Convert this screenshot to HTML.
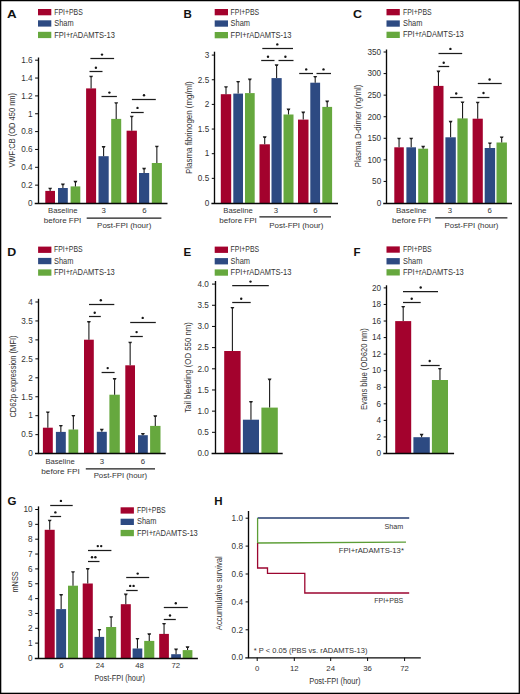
<!DOCTYPE html>
<html><head><meta charset="utf-8"><title>Figure</title>
<style>html,body{margin:0;padding:0;background:#fff;width:520px;height:694px;overflow:hidden}svg{display:block}</style>
</head><body>
<svg width="520" height="694" viewBox="0 0 520 694">
<g font-family='"Liberation Sans", sans-serif' stroke-linecap="butt">
<rect x="0.00" y="0.00" width="520.00" height="694.00" fill="#ffffff"/>
<text transform="translate(6.90,17.70) scale(1.160,1)" x="0" y="0" font-size="11.5" font-weight="bold" fill="#111">A</text>
<rect x="38.00" y="9.00" width="13.30" height="6.30" fill="#a3022d"/>
<text x="54.20" y="14.75" font-size="8.4" text-anchor="start" fill="#333333" font-weight="normal" textLength="28.60" lengthAdjust="spacingAndGlyphs">FPI+PBS</text>
<rect x="38.00" y="20.30" width="13.30" height="6.30" fill="#2d4a82"/>
<text x="54.20" y="26.05" font-size="8.4" text-anchor="start" fill="#333333" font-weight="normal" textLength="19.40" lengthAdjust="spacingAndGlyphs">Sham</text>
<rect x="38.00" y="31.80" width="13.30" height="6.30" fill="#66a83e"/>
<text x="54.20" y="37.55" font-size="8.4" text-anchor="start" fill="#333333" font-weight="normal" textLength="60.80" lengthAdjust="spacingAndGlyphs">FPI+rADAMTS-13</text>
<line x1="38.50" y1="57.50" x2="38.50" y2="203.50" stroke="#080808" stroke-width="1.35"/>
<text x="32.60" y="205.79" font-size="8.2" text-anchor="end" fill="#333333" font-weight="normal">0</text>
<line x1="35.10" y1="185.15" x2="38.10" y2="185.15" stroke="#080808" stroke-width="1.0"/>
<text x="32.60" y="187.94" font-size="8.2" text-anchor="end" fill="#333333" font-weight="normal">0.2</text>
<line x1="35.10" y1="167.30" x2="38.10" y2="167.30" stroke="#080808" stroke-width="1.0"/>
<text x="32.60" y="170.09" font-size="8.2" text-anchor="end" fill="#333333" font-weight="normal">0.4</text>
<line x1="35.10" y1="149.45" x2="38.10" y2="149.45" stroke="#080808" stroke-width="1.0"/>
<text x="32.60" y="152.24" font-size="8.2" text-anchor="end" fill="#333333" font-weight="normal">0.6</text>
<line x1="35.10" y1="131.60" x2="38.10" y2="131.60" stroke="#080808" stroke-width="1.0"/>
<text x="32.60" y="134.39" font-size="8.2" text-anchor="end" fill="#333333" font-weight="normal">0.8</text>
<line x1="35.10" y1="113.75" x2="38.10" y2="113.75" stroke="#080808" stroke-width="1.0"/>
<text x="32.60" y="116.54" font-size="8.2" text-anchor="end" fill="#333333" font-weight="normal">1</text>
<line x1="35.10" y1="95.90" x2="38.10" y2="95.90" stroke="#080808" stroke-width="1.0"/>
<text x="32.60" y="98.69" font-size="8.2" text-anchor="end" fill="#333333" font-weight="normal">1.2</text>
<line x1="35.10" y1="78.05" x2="38.10" y2="78.05" stroke="#080808" stroke-width="1.0"/>
<text x="32.60" y="80.84" font-size="8.2" text-anchor="end" fill="#333333" font-weight="normal">1.4</text>
<line x1="35.10" y1="60.20" x2="38.10" y2="60.20" stroke="#080808" stroke-width="1.0"/>
<text x="32.60" y="62.99" font-size="8.2" text-anchor="end" fill="#333333" font-weight="normal">1.6</text>
<text transform="translate(15.00,130.20) rotate(-90)" x="0" y="0" font-size="9.3" text-anchor="middle" fill="#333333" textLength="74.60" lengthAdjust="spacingAndGlyphs">VWF:CB (OD 450 nm)</text>
<rect x="45.30" y="190.90" width="9.70" height="12.10" fill="#a3022d"/>
<line x1="50.15" y1="190.90" x2="50.15" y2="188.80" stroke="#1c1c1c" stroke-width="1.1"/>
<path d="M48.25,187.70 L52.05,187.70 L51.35,189.30 L48.95,189.30 Z" fill="#1c1c1c"/>
<rect x="58.00" y="188.00" width="9.80" height="15.00" fill="#2d4a82"/>
<line x1="62.90" y1="188.00" x2="62.90" y2="184.70" stroke="#1c1c1c" stroke-width="1.1"/>
<path d="M61.00,183.60 L64.80,183.60 L64.10,185.20 L61.70,185.20 Z" fill="#1c1c1c"/>
<rect x="70.60" y="186.40" width="9.70" height="16.60" fill="#66a83e"/>
<line x1="75.45" y1="186.40" x2="75.45" y2="181.90" stroke="#1c1c1c" stroke-width="1.1"/>
<path d="M73.55,180.80 L77.35,180.80 L76.65,182.40 L74.25,182.40 Z" fill="#1c1c1c"/>
<rect x="86.10" y="88.40" width="10.00" height="114.60" fill="#a3022d"/>
<line x1="91.10" y1="88.40" x2="91.10" y2="76.80" stroke="#1c1c1c" stroke-width="1.1"/>
<path d="M89.20,75.70 L93.00,75.70 L92.30,77.30 L89.90,77.30 Z" fill="#1c1c1c"/>
<rect x="98.50" y="156.20" width="10.20" height="46.80" fill="#2d4a82"/>
<line x1="103.60" y1="156.20" x2="103.60" y2="147.20" stroke="#1c1c1c" stroke-width="1.1"/>
<path d="M101.70,146.10 L105.50,146.10 L104.80,147.70 L102.40,147.70 Z" fill="#1c1c1c"/>
<rect x="111.20" y="118.90" width="10.00" height="84.10" fill="#66a83e"/>
<line x1="116.20" y1="118.90" x2="116.20" y2="103.30" stroke="#1c1c1c" stroke-width="1.1"/>
<path d="M114.30,102.20 L118.10,102.20 L117.40,103.80 L115.00,103.80 Z" fill="#1c1c1c"/>
<rect x="126.60" y="130.70" width="10.30" height="72.30" fill="#a3022d"/>
<line x1="131.75" y1="130.70" x2="131.75" y2="116.80" stroke="#1c1c1c" stroke-width="1.1"/>
<path d="M129.85,115.70 L133.65,115.70 L132.95,117.30 L130.55,117.30 Z" fill="#1c1c1c"/>
<rect x="139.00" y="173.00" width="10.20" height="30.00" fill="#2d4a82"/>
<line x1="144.10" y1="173.00" x2="144.10" y2="168.90" stroke="#1c1c1c" stroke-width="1.1"/>
<path d="M142.20,167.80 L146.00,167.80 L145.30,169.40 L142.90,169.40 Z" fill="#1c1c1c"/>
<rect x="151.80" y="163.00" width="10.10" height="40.00" fill="#66a83e"/>
<line x1="156.85" y1="163.00" x2="156.85" y2="146.80" stroke="#1c1c1c" stroke-width="1.1"/>
<path d="M154.95,145.70 L158.75,145.70 L158.05,147.30 L155.65,147.30 Z" fill="#1c1c1c"/>
<line x1="34.70" y1="203.50" x2="167.50" y2="203.50" stroke="#080808" stroke-width="1.35"/>
<line x1="90.40" y1="58.50" x2="114.10" y2="58.50" stroke="#1c1c1c" stroke-width="1.25"/>
<circle cx="102.00" cy="54.60" r="1.2" fill="#151515"/>
<line x1="89.50" y1="71.50" x2="102.50" y2="71.50" stroke="#1c1c1c" stroke-width="1.25"/>
<circle cx="95.90" cy="67.70" r="1.2" fill="#151515"/>
<line x1="101.50" y1="96.50" x2="116.90" y2="96.50" stroke="#1c1c1c" stroke-width="1.25"/>
<circle cx="109.40" cy="92.60" r="1.2" fill="#151515"/>
<line x1="131.90" y1="99.50" x2="155.80" y2="99.50" stroke="#1c1c1c" stroke-width="1.25"/>
<circle cx="144.00" cy="95.20" r="1.2" fill="#151515"/>
<line x1="131.00" y1="112.50" x2="143.70" y2="112.50" stroke="#1c1c1c" stroke-width="1.25"/>
<circle cx="137.50" cy="107.90" r="1.2" fill="#151515"/>
<text x="62.80" y="213.20" font-size="7.8" text-anchor="middle" fill="#333333" font-weight="normal" textLength="29.50" lengthAdjust="spacingAndGlyphs">Baseline</text>
<text x="62.60" y="223.00" font-size="7.8" text-anchor="middle" fill="#333333" font-weight="normal" textLength="37.50" lengthAdjust="spacingAndGlyphs">before FPI</text>
<text x="103.70" y="213.20" font-size="7.8" text-anchor="middle" fill="#333333" font-weight="normal">3</text>
<text x="144.40" y="213.20" font-size="7.8" text-anchor="middle" fill="#333333" font-weight="normal">6</text>
<line x1="86.70" y1="218.10" x2="161.40" y2="218.10" stroke="#1c1c1c" stroke-width="1.25"/>
<text x="124.20" y="228.00" font-size="7.8" text-anchor="middle" fill="#333333" font-weight="normal" textLength="54.20" lengthAdjust="spacingAndGlyphs">Post-FPI (hour)</text>
<text transform="translate(183.50,17.80) scale(1.000,1)" x="0" y="0" font-size="11.5" font-weight="bold" fill="#111">B</text>
<rect x="214.70" y="9.00" width="13.30" height="6.30" fill="#a3022d"/>
<text x="230.60" y="14.75" font-size="8.4" text-anchor="start" fill="#333333" font-weight="normal" textLength="28.60" lengthAdjust="spacingAndGlyphs">FPI+PBS</text>
<rect x="214.70" y="20.40" width="13.30" height="6.30" fill="#2d4a82"/>
<text x="230.60" y="26.15" font-size="8.4" text-anchor="start" fill="#333333" font-weight="normal" textLength="19.40" lengthAdjust="spacingAndGlyphs">Sham</text>
<rect x="214.70" y="32.00" width="13.30" height="6.30" fill="#66a83e"/>
<text x="230.60" y="37.75" font-size="8.4" text-anchor="start" fill="#333333" font-weight="normal" textLength="60.80" lengthAdjust="spacingAndGlyphs">FPI+rADAMTS-13</text>
<line x1="214.50" y1="51.70" x2="214.50" y2="203.50" stroke="#080808" stroke-width="1.35"/>
<text x="209.20" y="205.79" font-size="8.2" text-anchor="end" fill="#333333" font-weight="normal">0</text>
<line x1="211.80" y1="178.35" x2="214.80" y2="178.35" stroke="#080808" stroke-width="1.0"/>
<text x="209.20" y="181.14" font-size="8.2" text-anchor="end" fill="#333333" font-weight="normal">0.5</text>
<line x1="211.80" y1="153.70" x2="214.80" y2="153.70" stroke="#080808" stroke-width="1.0"/>
<text x="209.20" y="156.49" font-size="8.2" text-anchor="end" fill="#333333" font-weight="normal">1</text>
<line x1="211.80" y1="129.05" x2="214.80" y2="129.05" stroke="#080808" stroke-width="1.0"/>
<text x="209.20" y="131.84" font-size="8.2" text-anchor="end" fill="#333333" font-weight="normal">1.5</text>
<line x1="211.80" y1="104.40" x2="214.80" y2="104.40" stroke="#080808" stroke-width="1.0"/>
<text x="209.20" y="107.19" font-size="8.2" text-anchor="end" fill="#333333" font-weight="normal">2</text>
<line x1="211.80" y1="79.75" x2="214.80" y2="79.75" stroke="#080808" stroke-width="1.0"/>
<text x="209.20" y="82.54" font-size="8.2" text-anchor="end" fill="#333333" font-weight="normal">2.5</text>
<line x1="211.80" y1="55.10" x2="214.80" y2="55.10" stroke="#080808" stroke-width="1.0"/>
<text x="209.20" y="57.89" font-size="8.2" text-anchor="end" fill="#333333" font-weight="normal">3</text>
<text transform="translate(192.40,127.60) rotate(-90)" x="0" y="0" font-size="9.3" text-anchor="middle" fill="#333333" textLength="92.70" lengthAdjust="spacingAndGlyphs">Plasma fibrinogen (mg/ml)</text>
<rect x="220.80" y="94.20" width="10.40" height="108.80" fill="#a3022d"/>
<line x1="226.00" y1="94.20" x2="226.00" y2="87.30" stroke="#1c1c1c" stroke-width="1.1"/>
<path d="M224.10,86.20 L227.90,86.20 L227.20,87.80 L224.80,87.80 Z" fill="#1c1c1c"/>
<rect x="233.30" y="93.60" width="9.70" height="109.40" fill="#2d4a82"/>
<line x1="238.15" y1="93.60" x2="238.15" y2="82.00" stroke="#1c1c1c" stroke-width="1.1"/>
<path d="M236.25,80.90 L240.05,80.90 L239.35,82.50 L236.95,82.50 Z" fill="#1c1c1c"/>
<rect x="245.00" y="93.10" width="9.70" height="109.90" fill="#66a83e"/>
<line x1="249.85" y1="93.10" x2="249.85" y2="79.70" stroke="#1c1c1c" stroke-width="1.1"/>
<path d="M247.95,78.60 L251.75,78.60 L251.05,80.20 L248.65,80.20 Z" fill="#1c1c1c"/>
<rect x="259.50" y="144.30" width="10.40" height="58.70" fill="#a3022d"/>
<line x1="264.70" y1="144.30" x2="264.70" y2="137.40" stroke="#1c1c1c" stroke-width="1.1"/>
<path d="M262.80,136.30 L266.60,136.30 L265.90,137.90 L263.50,137.90 Z" fill="#1c1c1c"/>
<rect x="271.50" y="78.10" width="10.20" height="124.90" fill="#2d4a82"/>
<line x1="276.60" y1="78.10" x2="276.60" y2="65.40" stroke="#1c1c1c" stroke-width="1.1"/>
<path d="M274.70,64.30 L278.50,64.30 L277.80,65.90 L275.40,65.90 Z" fill="#1c1c1c"/>
<rect x="283.50" y="114.50" width="10.00" height="88.50" fill="#66a83e"/>
<line x1="288.50" y1="114.50" x2="288.50" y2="109.70" stroke="#1c1c1c" stroke-width="1.1"/>
<path d="M286.60,108.60 L290.40,108.60 L289.70,110.20 L287.30,110.20 Z" fill="#1c1c1c"/>
<rect x="298.00" y="119.60" width="10.50" height="83.40" fill="#a3022d"/>
<line x1="303.25" y1="119.60" x2="303.25" y2="112.70" stroke="#1c1c1c" stroke-width="1.1"/>
<path d="M301.35,111.60 L305.15,111.60 L304.45,113.20 L302.05,113.20 Z" fill="#1c1c1c"/>
<rect x="310.30" y="82.70" width="9.80" height="120.30" fill="#2d4a82"/>
<line x1="315.20" y1="82.70" x2="315.20" y2="77.00" stroke="#1c1c1c" stroke-width="1.1"/>
<path d="M313.30,75.90 L317.10,75.90 L316.40,77.50 L314.00,77.50 Z" fill="#1c1c1c"/>
<rect x="322.30" y="106.90" width="9.80" height="96.10" fill="#66a83e"/>
<line x1="327.20" y1="106.90" x2="327.20" y2="101.70" stroke="#1c1c1c" stroke-width="1.1"/>
<path d="M325.30,100.60 L329.10,100.60 L328.40,102.20 L326.00,102.20 Z" fill="#1c1c1c"/>
<line x1="211.40" y1="203.50" x2="338.00" y2="203.50" stroke="#080808" stroke-width="1.35"/>
<line x1="262.30" y1="48.50" x2="293.00" y2="48.50" stroke="#1c1c1c" stroke-width="1.25"/>
<circle cx="277.30" cy="44.40" r="1.2" fill="#151515"/>
<line x1="261.20" y1="60.50" x2="274.50" y2="60.50" stroke="#1c1c1c" stroke-width="1.25"/>
<circle cx="268.00" cy="56.70" r="1.2" fill="#151515"/>
<line x1="278.50" y1="60.50" x2="293.50" y2="60.50" stroke="#1c1c1c" stroke-width="1.25"/>
<circle cx="285.40" cy="56.70" r="1.2" fill="#151515"/>
<line x1="299.20" y1="73.50" x2="313.00" y2="73.50" stroke="#1c1c1c" stroke-width="1.25"/>
<circle cx="306.20" cy="69.40" r="1.2" fill="#151515"/>
<line x1="316.50" y1="73.50" x2="331.00" y2="73.50" stroke="#1c1c1c" stroke-width="1.25"/>
<circle cx="323.50" cy="69.40" r="1.2" fill="#151515"/>
<text x="238.00" y="213.00" font-size="7.8" text-anchor="middle" fill="#333333" font-weight="normal" textLength="29.50" lengthAdjust="spacingAndGlyphs">Baseline</text>
<text x="238.10" y="223.00" font-size="7.8" text-anchor="middle" fill="#333333" font-weight="normal" textLength="37.50" lengthAdjust="spacingAndGlyphs">before FPI</text>
<text x="275.80" y="213.00" font-size="7.8" text-anchor="middle" fill="#333333" font-weight="normal">3</text>
<text x="315.30" y="213.00" font-size="7.8" text-anchor="middle" fill="#333333" font-weight="normal">6</text>
<line x1="259.40" y1="216.90" x2="331.00" y2="216.90" stroke="#1c1c1c" stroke-width="1.1"/>
<text x="296.30" y="228.00" font-size="7.8" text-anchor="middle" fill="#333333" font-weight="normal" textLength="54.00" lengthAdjust="spacingAndGlyphs">Post-FPI (hour)</text>
<text transform="translate(353.10,17.80) scale(1.090,1)" x="0" y="0" font-size="11.5" font-weight="bold" fill="#111">C</text>
<rect x="386.50" y="9.00" width="13.30" height="6.30" fill="#a3022d"/>
<text x="403.00" y="14.75" font-size="8.4" text-anchor="start" fill="#333333" font-weight="normal" textLength="28.60" lengthAdjust="spacingAndGlyphs">FPI+PBS</text>
<rect x="386.50" y="20.40" width="13.30" height="6.30" fill="#2d4a82"/>
<text x="403.00" y="26.15" font-size="8.4" text-anchor="start" fill="#333333" font-weight="normal" textLength="19.40" lengthAdjust="spacingAndGlyphs">Sham</text>
<rect x="386.50" y="31.70" width="13.30" height="6.30" fill="#66a83e"/>
<text x="403.00" y="37.45" font-size="8.4" text-anchor="start" fill="#333333" font-weight="normal" textLength="60.80" lengthAdjust="spacingAndGlyphs">FPI+rADAMTS-13</text>
<line x1="386.50" y1="49.50" x2="386.50" y2="203.50" stroke="#080808" stroke-width="1.35"/>
<text x="381.20" y="205.79" font-size="8.2" text-anchor="end" fill="#333333" font-weight="normal">0</text>
<line x1="383.60" y1="181.43" x2="386.60" y2="181.43" stroke="#080808" stroke-width="1.0"/>
<text x="381.20" y="184.22" font-size="8.2" text-anchor="end" fill="#333333" font-weight="normal">50</text>
<line x1="383.60" y1="159.86" x2="386.60" y2="159.86" stroke="#080808" stroke-width="1.0"/>
<text x="381.20" y="162.65" font-size="8.2" text-anchor="end" fill="#333333" font-weight="normal">100</text>
<line x1="383.60" y1="138.29" x2="386.60" y2="138.29" stroke="#080808" stroke-width="1.0"/>
<text x="381.20" y="141.08" font-size="8.2" text-anchor="end" fill="#333333" font-weight="normal">150</text>
<line x1="383.60" y1="116.72" x2="386.60" y2="116.72" stroke="#080808" stroke-width="1.0"/>
<text x="381.20" y="119.51" font-size="8.2" text-anchor="end" fill="#333333" font-weight="normal">200</text>
<line x1="383.60" y1="95.15" x2="386.60" y2="95.15" stroke="#080808" stroke-width="1.0"/>
<text x="381.20" y="97.94" font-size="8.2" text-anchor="end" fill="#333333" font-weight="normal">250</text>
<line x1="383.60" y1="73.58" x2="386.60" y2="73.58" stroke="#080808" stroke-width="1.0"/>
<text x="381.20" y="76.37" font-size="8.2" text-anchor="end" fill="#333333" font-weight="normal">300</text>
<line x1="383.60" y1="52.01" x2="386.60" y2="52.01" stroke="#080808" stroke-width="1.0"/>
<text x="381.20" y="54.80" font-size="8.2" text-anchor="end" fill="#333333" font-weight="normal">350</text>
<text transform="translate(361.00,125.90) rotate(-90)" x="0" y="0" font-size="9.3" text-anchor="middle" fill="#333333" textLength="82.60" lengthAdjust="spacingAndGlyphs">Plasma D-dimer (ng/ml)</text>
<rect x="394.30" y="147.30" width="9.50" height="55.70" fill="#a3022d"/>
<line x1="399.05" y1="147.30" x2="399.05" y2="138.80" stroke="#1c1c1c" stroke-width="1.1"/>
<path d="M397.15,137.70 L400.95,137.70 L400.25,139.30 L397.85,139.30 Z" fill="#1c1c1c"/>
<rect x="406.40" y="147.30" width="9.60" height="55.70" fill="#2d4a82"/>
<line x1="411.20" y1="147.30" x2="411.20" y2="138.80" stroke="#1c1c1c" stroke-width="1.1"/>
<path d="M409.30,137.70 L413.10,137.70 L412.40,139.30 L410.00,139.30 Z" fill="#1c1c1c"/>
<rect x="418.20" y="148.70" width="9.90" height="54.30" fill="#66a83e"/>
<line x1="423.15" y1="148.70" x2="423.15" y2="146.90" stroke="#1c1c1c" stroke-width="1.1"/>
<path d="M421.25,145.80 L425.05,145.80 L424.35,147.40 L421.95,147.40 Z" fill="#1c1c1c"/>
<rect x="433.40" y="85.90" width="10.10" height="117.10" fill="#a3022d"/>
<line x1="438.45" y1="85.90" x2="438.45" y2="71.70" stroke="#1c1c1c" stroke-width="1.1"/>
<path d="M436.55,70.60 L440.35,70.60 L439.65,72.20 L437.25,72.20 Z" fill="#1c1c1c"/>
<rect x="445.40" y="137.30" width="10.40" height="65.70" fill="#2d4a82"/>
<line x1="450.60" y1="137.30" x2="450.60" y2="121.90" stroke="#1c1c1c" stroke-width="1.1"/>
<path d="M448.70,120.80 L452.50,120.80 L451.80,122.40 L449.40,122.40 Z" fill="#1c1c1c"/>
<rect x="457.40" y="118.40" width="10.30" height="84.60" fill="#66a83e"/>
<line x1="462.55" y1="118.40" x2="462.55" y2="102.50" stroke="#1c1c1c" stroke-width="1.1"/>
<path d="M460.65,101.40 L464.45,101.40 L463.75,103.00 L461.35,103.00 Z" fill="#1c1c1c"/>
<rect x="472.60" y="118.70" width="10.20" height="84.30" fill="#a3022d"/>
<line x1="477.70" y1="118.70" x2="477.70" y2="102.80" stroke="#1c1c1c" stroke-width="1.1"/>
<path d="M475.80,101.70 L479.60,101.70 L478.90,103.30 L476.50,103.30 Z" fill="#1c1c1c"/>
<rect x="484.70" y="148.00" width="10.40" height="55.00" fill="#2d4a82"/>
<line x1="489.90" y1="148.00" x2="489.90" y2="143.50" stroke="#1c1c1c" stroke-width="1.1"/>
<path d="M488.00,142.40 L491.80,142.40 L491.10,144.00 L488.70,144.00 Z" fill="#1c1c1c"/>
<rect x="496.50" y="142.50" width="10.40" height="60.50" fill="#66a83e"/>
<line x1="501.70" y1="142.50" x2="501.70" y2="137.50" stroke="#1c1c1c" stroke-width="1.1"/>
<path d="M499.80,136.40 L503.60,136.40 L502.90,138.00 L500.50,138.00 Z" fill="#1c1c1c"/>
<line x1="383.20" y1="203.50" x2="512.00" y2="203.50" stroke="#080808" stroke-width="1.35"/>
<line x1="438.50" y1="53.50" x2="462.20" y2="53.50" stroke="#1c1c1c" stroke-width="1.25"/>
<circle cx="450.40" cy="48.90" r="1.2" fill="#151515"/>
<line x1="438.50" y1="66.50" x2="449.20" y2="66.50" stroke="#1c1c1c" stroke-width="1.25"/>
<circle cx="443.70" cy="62.70" r="1.2" fill="#151515"/>
<line x1="450.10" y1="97.50" x2="462.60" y2="97.50" stroke="#1c1c1c" stroke-width="1.25"/>
<circle cx="456.20" cy="93.50" r="1.2" fill="#151515"/>
<line x1="477.80" y1="83.50" x2="501.70" y2="83.50" stroke="#1c1c1c" stroke-width="1.25"/>
<circle cx="489.60" cy="79.50" r="1.2" fill="#151515"/>
<line x1="477.40" y1="97.50" x2="489.40" y2="97.50" stroke="#1c1c1c" stroke-width="1.25"/>
<circle cx="483.50" cy="93.00" r="1.2" fill="#151515"/>
<text x="411.30" y="213.00" font-size="7.8" text-anchor="middle" fill="#333333" font-weight="normal" textLength="30.50" lengthAdjust="spacingAndGlyphs">Baseline</text>
<text x="411.60" y="223.20" font-size="7.8" text-anchor="middle" fill="#333333" font-weight="normal" textLength="39.00" lengthAdjust="spacingAndGlyphs">before FPI</text>
<text x="450.00" y="213.00" font-size="7.8" text-anchor="middle" fill="#333333" font-weight="normal">3</text>
<text x="489.60" y="213.00" font-size="7.8" text-anchor="middle" fill="#333333" font-weight="normal">6</text>
<line x1="435.20" y1="217.90" x2="507.40" y2="217.90" stroke="#1c1c1c" stroke-width="1.1"/>
<text x="471.50" y="228.00" font-size="7.8" text-anchor="middle" fill="#333333" font-weight="normal" textLength="54.00" lengthAdjust="spacingAndGlyphs">Post-FPI (hour)</text>
<text transform="translate(7.20,256.00) scale(1.080,1)" x="0" y="0" font-size="11.5" font-weight="bold" fill="#111">D</text>
<rect x="38.10" y="246.60" width="13.30" height="6.30" fill="#a3022d"/>
<text x="54.00" y="252.35" font-size="8.4" text-anchor="start" fill="#333333" font-weight="normal" textLength="28.60" lengthAdjust="spacingAndGlyphs">FPI+PBS</text>
<rect x="38.10" y="257.90" width="13.30" height="6.30" fill="#2d4a82"/>
<text x="54.00" y="263.65" font-size="8.4" text-anchor="start" fill="#333333" font-weight="normal" textLength="19.40" lengthAdjust="spacingAndGlyphs">Sham</text>
<rect x="38.10" y="269.40" width="13.30" height="6.30" fill="#66a83e"/>
<text x="54.00" y="275.15" font-size="8.4" text-anchor="start" fill="#333333" font-weight="normal" textLength="60.80" lengthAdjust="spacingAndGlyphs">FPI+rADAMTS-13</text>
<line x1="38.50" y1="298.80" x2="38.50" y2="454.10" stroke="#080808" stroke-width="1.35"/>
<text x="32.70" y="456.39" font-size="8.2" text-anchor="end" fill="#333333" font-weight="normal">0</text>
<line x1="35.40" y1="434.65" x2="38.40" y2="434.65" stroke="#080808" stroke-width="1.0"/>
<text x="32.70" y="437.44" font-size="8.2" text-anchor="end" fill="#333333" font-weight="normal">0.5</text>
<line x1="35.40" y1="415.70" x2="38.40" y2="415.70" stroke="#080808" stroke-width="1.0"/>
<text x="32.70" y="418.49" font-size="8.2" text-anchor="end" fill="#333333" font-weight="normal">1</text>
<line x1="35.40" y1="396.75" x2="38.40" y2="396.75" stroke="#080808" stroke-width="1.0"/>
<text x="32.70" y="399.54" font-size="8.2" text-anchor="end" fill="#333333" font-weight="normal">1.5</text>
<line x1="35.40" y1="377.80" x2="38.40" y2="377.80" stroke="#080808" stroke-width="1.0"/>
<text x="32.70" y="380.59" font-size="8.2" text-anchor="end" fill="#333333" font-weight="normal">2</text>
<line x1="35.40" y1="358.85" x2="38.40" y2="358.85" stroke="#080808" stroke-width="1.0"/>
<text x="32.70" y="361.64" font-size="8.2" text-anchor="end" fill="#333333" font-weight="normal">2.5</text>
<line x1="35.40" y1="339.90" x2="38.40" y2="339.90" stroke="#080808" stroke-width="1.0"/>
<text x="32.70" y="342.69" font-size="8.2" text-anchor="end" fill="#333333" font-weight="normal">3</text>
<line x1="35.40" y1="320.95" x2="38.40" y2="320.95" stroke="#080808" stroke-width="1.0"/>
<text x="32.70" y="323.74" font-size="8.2" text-anchor="end" fill="#333333" font-weight="normal">3.5</text>
<line x1="35.40" y1="302.00" x2="38.40" y2="302.00" stroke="#080808" stroke-width="1.0"/>
<text x="32.70" y="304.79" font-size="8.2" text-anchor="end" fill="#333333" font-weight="normal">4</text>
<text transform="translate(16.10,376.50) rotate(-90)" x="0" y="0" font-size="9.5" text-anchor="middle" fill="#333333" textLength="82.20" lengthAdjust="spacingAndGlyphs">CD62p expression (MFI)</text>
<rect x="42.90" y="427.70" width="9.90" height="25.60" fill="#a3022d"/>
<line x1="47.85" y1="427.70" x2="47.85" y2="412.50" stroke="#1c1c1c" stroke-width="1.1"/>
<path d="M45.95,411.40 L49.75,411.40 L49.05,413.00 L46.65,413.00 Z" fill="#1c1c1c"/>
<rect x="55.90" y="431.90" width="9.90" height="21.40" fill="#2d4a82"/>
<line x1="60.85" y1="431.90" x2="60.85" y2="426.00" stroke="#1c1c1c" stroke-width="1.1"/>
<path d="M58.95,424.90 L62.75,424.90 L62.05,426.50 L59.65,426.50 Z" fill="#1c1c1c"/>
<rect x="68.50" y="429.50" width="9.70" height="23.80" fill="#66a83e"/>
<line x1="73.35" y1="429.50" x2="73.35" y2="416.10" stroke="#1c1c1c" stroke-width="1.1"/>
<path d="M71.45,415.00 L75.25,415.00 L74.55,416.60 L72.15,416.60 Z" fill="#1c1c1c"/>
<rect x="84.00" y="339.70" width="9.80" height="113.60" fill="#a3022d"/>
<line x1="88.90" y1="339.70" x2="88.90" y2="322.20" stroke="#1c1c1c" stroke-width="1.1"/>
<path d="M87.00,321.10 L90.80,321.10 L90.10,322.70 L87.70,322.70 Z" fill="#1c1c1c"/>
<rect x="96.80" y="431.80" width="10.00" height="21.50" fill="#2d4a82"/>
<line x1="101.80" y1="431.80" x2="101.80" y2="429.90" stroke="#1c1c1c" stroke-width="1.1"/>
<path d="M99.90,428.80 L103.70,428.80 L103.00,430.40 L100.60,430.40 Z" fill="#1c1c1c"/>
<rect x="109.40" y="394.70" width="10.40" height="58.60" fill="#66a83e"/>
<line x1="114.60" y1="394.70" x2="114.60" y2="379.20" stroke="#1c1c1c" stroke-width="1.1"/>
<path d="M112.70,378.10 L116.50,378.10 L115.80,379.70 L113.40,379.70 Z" fill="#1c1c1c"/>
<rect x="125.30" y="365.30" width="9.70" height="88.00" fill="#a3022d"/>
<line x1="130.15" y1="365.30" x2="130.15" y2="342.80" stroke="#1c1c1c" stroke-width="1.1"/>
<path d="M128.25,341.70 L132.05,341.70 L131.35,343.30 L128.95,343.30 Z" fill="#1c1c1c"/>
<rect x="138.00" y="435.20" width="9.80" height="18.10" fill="#2d4a82"/>
<line x1="142.90" y1="435.20" x2="142.90" y2="434.20" stroke="#1c1c1c" stroke-width="1.1"/>
<path d="M141.00,433.10 L144.80,433.10 L144.10,434.70 L141.70,434.70 Z" fill="#1c1c1c"/>
<rect x="150.10" y="425.90" width="10.40" height="27.40" fill="#66a83e"/>
<line x1="155.30" y1="425.90" x2="155.30" y2="416.40" stroke="#1c1c1c" stroke-width="1.1"/>
<path d="M153.40,415.30 L157.20,415.30 L156.50,416.90 L154.10,416.90 Z" fill="#1c1c1c"/>
<line x1="35.00" y1="453.50" x2="165.70" y2="453.50" stroke="#080808" stroke-width="1.35"/>
<line x1="89.00" y1="304.50" x2="114.30" y2="304.50" stroke="#1c1c1c" stroke-width="1.25"/>
<circle cx="100.80" cy="300.30" r="1.2" fill="#151515"/>
<line x1="89.00" y1="316.50" x2="100.80" y2="316.50" stroke="#1c1c1c" stroke-width="1.25"/>
<circle cx="94.70" cy="312.70" r="1.2" fill="#151515"/>
<line x1="101.60" y1="372.50" x2="114.60" y2="372.50" stroke="#1c1c1c" stroke-width="1.25"/>
<circle cx="107.70" cy="368.10" r="1.2" fill="#151515"/>
<line x1="130.20" y1="322.50" x2="155.80" y2="322.50" stroke="#1c1c1c" stroke-width="1.25"/>
<circle cx="142.70" cy="317.90" r="1.2" fill="#151515"/>
<line x1="130.20" y1="336.50" x2="142.80" y2="336.50" stroke="#1c1c1c" stroke-width="1.25"/>
<circle cx="136.60" cy="332.10" r="1.2" fill="#151515"/>
<text x="60.10" y="463.50" font-size="7.8" text-anchor="middle" fill="#333333" font-weight="normal" textLength="29.30" lengthAdjust="spacingAndGlyphs">Baseline</text>
<text x="60.50" y="473.50" font-size="7.8" text-anchor="middle" fill="#333333" font-weight="normal" textLength="38.40" lengthAdjust="spacingAndGlyphs">before FPI</text>
<text x="102.00" y="463.50" font-size="7.8" text-anchor="middle" fill="#333333" font-weight="normal">3</text>
<text x="143.00" y="463.50" font-size="7.8" text-anchor="middle" fill="#333333" font-weight="normal">6</text>
<line x1="85.80" y1="468.80" x2="155.00" y2="468.80" stroke="#1c1c1c" stroke-width="1.25"/>
<text x="120.40" y="478.30" font-size="7.8" text-anchor="middle" fill="#333333" font-weight="normal" textLength="53.50" lengthAdjust="spacingAndGlyphs">Post-FPI (hour)</text>
<text transform="translate(183.50,256.00) scale(1.000,1)" x="0" y="0" font-size="11.5" font-weight="bold" fill="#111">E</text>
<rect x="214.70" y="246.60" width="13.30" height="6.30" fill="#a3022d"/>
<text x="230.60" y="252.35" font-size="8.4" text-anchor="start" fill="#333333" font-weight="normal" textLength="28.60" lengthAdjust="spacingAndGlyphs">FPI+PBS</text>
<rect x="214.70" y="258.10" width="13.30" height="6.30" fill="#2d4a82"/>
<text x="230.60" y="263.85" font-size="8.4" text-anchor="start" fill="#333333" font-weight="normal" textLength="19.40" lengthAdjust="spacingAndGlyphs">Sham</text>
<rect x="214.70" y="269.40" width="13.30" height="6.30" fill="#66a83e"/>
<text x="230.60" y="275.15" font-size="8.4" text-anchor="start" fill="#333333" font-weight="normal" textLength="60.80" lengthAdjust="spacingAndGlyphs">FPI+rADAMTS-13</text>
<line x1="215.50" y1="281.00" x2="215.50" y2="454.00" stroke="#080808" stroke-width="1.35"/>
<text x="208.90" y="456.29" font-size="8.2" text-anchor="end" fill="#333333" font-weight="normal">0.0</text>
<line x1="212.00" y1="432.32" x2="215.00" y2="432.32" stroke="#080808" stroke-width="1.0"/>
<text x="208.90" y="435.11" font-size="8.2" text-anchor="end" fill="#333333" font-weight="normal">0.5</text>
<line x1="212.00" y1="411.15" x2="215.00" y2="411.15" stroke="#080808" stroke-width="1.0"/>
<text x="208.90" y="413.94" font-size="8.2" text-anchor="end" fill="#333333" font-weight="normal">1.0</text>
<line x1="212.00" y1="389.98" x2="215.00" y2="389.98" stroke="#080808" stroke-width="1.0"/>
<text x="208.90" y="392.76" font-size="8.2" text-anchor="end" fill="#333333" font-weight="normal">1.5</text>
<line x1="212.00" y1="368.80" x2="215.00" y2="368.80" stroke="#080808" stroke-width="1.0"/>
<text x="208.90" y="371.59" font-size="8.2" text-anchor="end" fill="#333333" font-weight="normal">2.0</text>
<line x1="212.00" y1="347.62" x2="215.00" y2="347.62" stroke="#080808" stroke-width="1.0"/>
<text x="208.90" y="350.41" font-size="8.2" text-anchor="end" fill="#333333" font-weight="normal">2.5</text>
<line x1="212.00" y1="326.45" x2="215.00" y2="326.45" stroke="#080808" stroke-width="1.0"/>
<text x="208.90" y="329.24" font-size="8.2" text-anchor="end" fill="#333333" font-weight="normal">3.0</text>
<line x1="212.00" y1="305.27" x2="215.00" y2="305.27" stroke="#080808" stroke-width="1.0"/>
<text x="208.90" y="308.06" font-size="8.2" text-anchor="end" fill="#333333" font-weight="normal">3.5</text>
<line x1="212.00" y1="284.10" x2="215.00" y2="284.10" stroke="#080808" stroke-width="1.0"/>
<text x="208.90" y="286.89" font-size="8.2" text-anchor="end" fill="#333333" font-weight="normal">4.0</text>
<text transform="translate(191.30,367.50) rotate(-90)" x="0" y="0" font-size="9.3" text-anchor="middle" fill="#333333" textLength="90.70" lengthAdjust="spacingAndGlyphs">Tail bleeding (OD 550 nm)</text>
<rect x="224.20" y="351.00" width="16.40" height="102.30" fill="#a3022d"/>
<line x1="232.40" y1="351.00" x2="232.40" y2="308.00" stroke="#1c1c1c" stroke-width="1.1"/>
<path d="M230.50,306.90 L234.30,306.90 L233.60,308.50 L231.20,308.50 Z" fill="#1c1c1c"/>
<rect x="242.90" y="419.70" width="16.10" height="33.60" fill="#2d4a82"/>
<line x1="250.95" y1="419.70" x2="250.95" y2="402.20" stroke="#1c1c1c" stroke-width="1.1"/>
<path d="M249.05,401.10 L252.85,401.10 L252.15,402.70 L249.75,402.70 Z" fill="#1c1c1c"/>
<rect x="261.40" y="407.60" width="16.40" height="45.70" fill="#66a83e"/>
<line x1="269.60" y1="407.60" x2="269.60" y2="379.70" stroke="#1c1c1c" stroke-width="1.1"/>
<path d="M267.70,378.60 L271.50,378.60 L270.80,380.20 L268.40,380.20 Z" fill="#1c1c1c"/>
<line x1="211.60" y1="453.50" x2="282.70" y2="453.50" stroke="#080808" stroke-width="1.35"/>
<line x1="232.20" y1="285.50" x2="268.80" y2="285.50" stroke="#1c1c1c" stroke-width="1.25"/>
<circle cx="250.50" cy="281.60" r="1.2" fill="#151515"/>
<line x1="232.20" y1="302.50" x2="250.70" y2="302.50" stroke="#1c1c1c" stroke-width="1.25"/>
<circle cx="241.20" cy="298.80" r="1.2" fill="#151515"/>
<text transform="translate(353.40,255.60) scale(1.000,1)" x="0" y="0" font-size="11.5" font-weight="bold" fill="#111">F</text>
<rect x="386.50" y="246.40" width="13.30" height="6.30" fill="#a3022d"/>
<text x="403.00" y="252.15" font-size="8.4" text-anchor="start" fill="#333333" font-weight="normal" textLength="28.60" lengthAdjust="spacingAndGlyphs">FPI+PBS</text>
<rect x="386.50" y="258.10" width="13.30" height="6.30" fill="#2d4a82"/>
<text x="403.00" y="263.85" font-size="8.4" text-anchor="start" fill="#333333" font-weight="normal" textLength="19.40" lengthAdjust="spacingAndGlyphs">Sham</text>
<rect x="386.50" y="269.20" width="13.30" height="6.30" fill="#66a83e"/>
<text x="403.00" y="274.95" font-size="8.4" text-anchor="start" fill="#333333" font-weight="normal" textLength="60.80" lengthAdjust="spacingAndGlyphs">FPI+rADAMTS-13</text>
<line x1="386.50" y1="285.30" x2="386.50" y2="454.00" stroke="#080808" stroke-width="1.35"/>
<text x="381.00" y="456.29" font-size="8.2" text-anchor="end" fill="#333333" font-weight="normal">0</text>
<line x1="383.70" y1="436.94" x2="386.70" y2="436.94" stroke="#080808" stroke-width="1.0"/>
<text x="381.00" y="439.73" font-size="8.2" text-anchor="end" fill="#333333" font-weight="normal">2</text>
<line x1="383.70" y1="420.38" x2="386.70" y2="420.38" stroke="#080808" stroke-width="1.0"/>
<text x="381.00" y="423.17" font-size="8.2" text-anchor="end" fill="#333333" font-weight="normal">4</text>
<line x1="383.70" y1="403.82" x2="386.70" y2="403.82" stroke="#080808" stroke-width="1.0"/>
<text x="381.00" y="406.61" font-size="8.2" text-anchor="end" fill="#333333" font-weight="normal">6</text>
<line x1="383.70" y1="387.26" x2="386.70" y2="387.26" stroke="#080808" stroke-width="1.0"/>
<text x="381.00" y="390.05" font-size="8.2" text-anchor="end" fill="#333333" font-weight="normal">8</text>
<line x1="383.70" y1="370.70" x2="386.70" y2="370.70" stroke="#080808" stroke-width="1.0"/>
<text x="381.00" y="373.49" font-size="8.2" text-anchor="end" fill="#333333" font-weight="normal">10</text>
<line x1="383.70" y1="354.14" x2="386.70" y2="354.14" stroke="#080808" stroke-width="1.0"/>
<text x="381.00" y="356.93" font-size="8.2" text-anchor="end" fill="#333333" font-weight="normal">12</text>
<line x1="383.70" y1="337.58" x2="386.70" y2="337.58" stroke="#080808" stroke-width="1.0"/>
<text x="381.00" y="340.37" font-size="8.2" text-anchor="end" fill="#333333" font-weight="normal">14</text>
<line x1="383.70" y1="321.02" x2="386.70" y2="321.02" stroke="#080808" stroke-width="1.0"/>
<text x="381.00" y="323.81" font-size="8.2" text-anchor="end" fill="#333333" font-weight="normal">16</text>
<line x1="383.70" y1="304.46" x2="386.70" y2="304.46" stroke="#080808" stroke-width="1.0"/>
<text x="381.00" y="307.25" font-size="8.2" text-anchor="end" fill="#333333" font-weight="normal">18</text>
<line x1="383.70" y1="287.90" x2="386.70" y2="287.90" stroke="#080808" stroke-width="1.0"/>
<text x="381.00" y="290.69" font-size="8.2" text-anchor="end" fill="#333333" font-weight="normal">20</text>
<text transform="translate(366.60,369.10) rotate(-90)" x="0" y="0" font-size="9.5" text-anchor="middle" fill="#333333" textLength="81.80" lengthAdjust="spacingAndGlyphs">Evans blue (OD620 nm)</text>
<rect x="395.20" y="321.10" width="16.00" height="132.40" fill="#a3022d"/>
<line x1="403.20" y1="321.10" x2="403.20" y2="307.00" stroke="#1c1c1c" stroke-width="1.1"/>
<path d="M401.30,305.90 L405.10,305.90 L404.40,307.50 L402.00,307.50 Z" fill="#1c1c1c"/>
<rect x="413.40" y="437.20" width="16.40" height="16.30" fill="#2d4a82"/>
<line x1="421.60" y1="437.20" x2="421.60" y2="434.90" stroke="#1c1c1c" stroke-width="1.1"/>
<path d="M419.70,433.80 L423.50,433.80 L422.80,435.40 L420.40,435.40 Z" fill="#1c1c1c"/>
<rect x="431.90" y="380.00" width="16.10" height="73.50" fill="#66a83e"/>
<line x1="439.95" y1="380.00" x2="439.95" y2="369.10" stroke="#1c1c1c" stroke-width="1.1"/>
<path d="M438.05,368.00 L441.85,368.00 L441.15,369.60 L438.75,369.60 Z" fill="#1c1c1c"/>
<line x1="383.30" y1="453.50" x2="454.10" y2="453.50" stroke="#080808" stroke-width="1.35"/>
<line x1="403.00" y1="291.50" x2="438.00" y2="291.50" stroke="#1c1c1c" stroke-width="1.25"/>
<circle cx="420.70" cy="287.50" r="1.2" fill="#151515"/>
<line x1="403.00" y1="302.50" x2="420.70" y2="302.50" stroke="#1c1c1c" stroke-width="1.25"/>
<circle cx="411.70" cy="298.80" r="1.2" fill="#151515"/>
<line x1="420.70" y1="365.50" x2="439.70" y2="365.50" stroke="#1c1c1c" stroke-width="1.25"/>
<circle cx="429.70" cy="361.00" r="1.2" fill="#151515"/>
<text transform="translate(7.40,505.30) scale(1.000,1)" x="0" y="0" font-size="11.5" font-weight="bold" fill="#111">G</text>
<rect x="120.60" y="507.30" width="13.30" height="6.30" fill="#a3022d"/>
<text x="137.00" y="513.05" font-size="8.4" text-anchor="start" fill="#333333" font-weight="normal" textLength="28.60" lengthAdjust="spacingAndGlyphs">FPI+PBS</text>
<rect x="120.60" y="518.70" width="13.30" height="6.30" fill="#2d4a82"/>
<text x="137.00" y="524.45" font-size="8.4" text-anchor="start" fill="#333333" font-weight="normal" textLength="19.40" lengthAdjust="spacingAndGlyphs">Sham</text>
<rect x="120.60" y="529.90" width="13.30" height="6.30" fill="#66a83e"/>
<text x="137.00" y="535.65" font-size="8.4" text-anchor="start" fill="#333333" font-weight="normal" textLength="60.80" lengthAdjust="spacingAndGlyphs">FPI+rADAMTS-13</text>
<line x1="38.50" y1="506.40" x2="38.50" y2="658.50" stroke="#080808" stroke-width="1.35"/>
<text x="32.60" y="660.79" font-size="8.2" text-anchor="end" fill="#333333" font-weight="normal">0</text>
<line x1="35.20" y1="643.15" x2="38.20" y2="643.15" stroke="#080808" stroke-width="1.0"/>
<text x="32.60" y="645.94" font-size="8.2" text-anchor="end" fill="#333333" font-weight="normal">1</text>
<line x1="35.20" y1="628.30" x2="38.20" y2="628.30" stroke="#080808" stroke-width="1.0"/>
<text x="32.60" y="631.09" font-size="8.2" text-anchor="end" fill="#333333" font-weight="normal">2</text>
<line x1="35.20" y1="613.45" x2="38.20" y2="613.45" stroke="#080808" stroke-width="1.0"/>
<text x="32.60" y="616.24" font-size="8.2" text-anchor="end" fill="#333333" font-weight="normal">3</text>
<line x1="35.20" y1="598.60" x2="38.20" y2="598.60" stroke="#080808" stroke-width="1.0"/>
<text x="32.60" y="601.39" font-size="8.2" text-anchor="end" fill="#333333" font-weight="normal">4</text>
<line x1="35.20" y1="583.75" x2="38.20" y2="583.75" stroke="#080808" stroke-width="1.0"/>
<text x="32.60" y="586.54" font-size="8.2" text-anchor="end" fill="#333333" font-weight="normal">5</text>
<line x1="35.20" y1="568.90" x2="38.20" y2="568.90" stroke="#080808" stroke-width="1.0"/>
<text x="32.60" y="571.69" font-size="8.2" text-anchor="end" fill="#333333" font-weight="normal">6</text>
<line x1="35.20" y1="554.05" x2="38.20" y2="554.05" stroke="#080808" stroke-width="1.0"/>
<text x="32.60" y="556.84" font-size="8.2" text-anchor="end" fill="#333333" font-weight="normal">7</text>
<line x1="35.20" y1="539.20" x2="38.20" y2="539.20" stroke="#080808" stroke-width="1.0"/>
<text x="32.60" y="541.99" font-size="8.2" text-anchor="end" fill="#333333" font-weight="normal">8</text>
<line x1="35.20" y1="524.35" x2="38.20" y2="524.35" stroke="#080808" stroke-width="1.0"/>
<text x="32.60" y="527.14" font-size="8.2" text-anchor="end" fill="#333333" font-weight="normal">9</text>
<line x1="35.20" y1="509.50" x2="38.20" y2="509.50" stroke="#080808" stroke-width="1.0"/>
<text x="32.60" y="512.29" font-size="8.2" text-anchor="end" fill="#333333" font-weight="normal">10</text>
<text transform="translate(17.80,581.90) rotate(-90)" x="0" y="0" font-size="9.5" text-anchor="middle" fill="#333333" textLength="21.30" lengthAdjust="spacingAndGlyphs">mNSS</text>
<rect x="44.70" y="529.80" width="10.00" height="128.20" fill="#a3022d"/>
<line x1="49.70" y1="529.80" x2="49.70" y2="520.80" stroke="#1c1c1c" stroke-width="1.1"/>
<path d="M47.80,519.70 L51.60,519.70 L50.90,521.30 L48.50,521.30 Z" fill="#1c1c1c"/>
<rect x="56.20" y="609.10" width="9.90" height="48.90" fill="#2d4a82"/>
<line x1="61.15" y1="609.10" x2="61.15" y2="595.20" stroke="#1c1c1c" stroke-width="1.1"/>
<path d="M59.25,594.10 L63.05,594.10 L62.35,595.70 L59.95,595.70 Z" fill="#1c1c1c"/>
<rect x="68.00" y="585.70" width="10.00" height="72.30" fill="#66a83e"/>
<line x1="73.00" y1="585.70" x2="73.00" y2="572.30" stroke="#1c1c1c" stroke-width="1.1"/>
<path d="M71.10,571.20 L74.90,571.20 L74.20,572.80 L71.80,572.80 Z" fill="#1c1c1c"/>
<rect x="82.70" y="583.50" width="10.10" height="74.50" fill="#a3022d"/>
<line x1="87.75" y1="583.50" x2="87.75" y2="569.20" stroke="#1c1c1c" stroke-width="1.1"/>
<path d="M85.85,568.10 L89.65,568.10 L88.95,569.70 L86.55,569.70 Z" fill="#1c1c1c"/>
<rect x="94.50" y="636.90" width="9.70" height="21.10" fill="#2d4a82"/>
<line x1="99.35" y1="636.90" x2="99.35" y2="630.00" stroke="#1c1c1c" stroke-width="1.1"/>
<path d="M97.45,628.90 L101.25,628.90 L100.55,630.50 L98.15,630.50 Z" fill="#1c1c1c"/>
<rect x="106.10" y="627.00" width="10.10" height="31.00" fill="#66a83e"/>
<line x1="111.15" y1="627.00" x2="111.15" y2="617.30" stroke="#1c1c1c" stroke-width="1.1"/>
<path d="M109.25,616.20 L113.05,616.20 L112.35,617.80 L109.95,617.80 Z" fill="#1c1c1c"/>
<rect x="120.80" y="604.20" width="10.00" height="53.80" fill="#a3022d"/>
<line x1="125.80" y1="604.20" x2="125.80" y2="594.70" stroke="#1c1c1c" stroke-width="1.1"/>
<path d="M123.90,593.60 L127.70,593.60 L127.00,595.20 L124.60,595.20 Z" fill="#1c1c1c"/>
<rect x="132.60" y="648.50" width="9.70" height="9.50" fill="#2d4a82"/>
<line x1="137.45" y1="648.50" x2="137.45" y2="639.00" stroke="#1c1c1c" stroke-width="1.1"/>
<path d="M135.55,637.90 L139.35,637.90 L138.65,639.50 L136.25,639.50 Z" fill="#1c1c1c"/>
<rect x="144.20" y="640.90" width="10.10" height="17.10" fill="#66a83e"/>
<line x1="149.25" y1="640.90" x2="149.25" y2="634.40" stroke="#1c1c1c" stroke-width="1.1"/>
<path d="M147.35,633.30 L151.15,633.30 L150.45,634.90 L148.05,634.90 Z" fill="#1c1c1c"/>
<rect x="159.20" y="633.90" width="9.70" height="24.10" fill="#a3022d"/>
<line x1="164.05" y1="633.90" x2="164.05" y2="624.00" stroke="#1c1c1c" stroke-width="1.1"/>
<path d="M162.15,622.90 L165.95,622.90 L165.25,624.50 L162.85,624.50 Z" fill="#1c1c1c"/>
<rect x="171.20" y="654.20" width="9.70" height="3.80" fill="#2d4a82"/>
<line x1="176.05" y1="654.20" x2="176.05" y2="649.70" stroke="#1c1c1c" stroke-width="1.1"/>
<path d="M174.15,648.60 L177.95,648.60 L177.25,650.20 L174.85,650.20 Z" fill="#1c1c1c"/>
<rect x="182.70" y="650.10" width="9.70" height="7.90" fill="#66a83e"/>
<line x1="187.55" y1="650.10" x2="187.55" y2="647.40" stroke="#1c1c1c" stroke-width="1.1"/>
<path d="M185.65,646.30 L189.45,646.30 L188.75,647.90 L186.35,647.90 Z" fill="#1c1c1c"/>
<line x1="34.80" y1="658.50" x2="197.90" y2="658.50" stroke="#080808" stroke-width="1.35"/>
<line x1="50.20" y1="505.50" x2="72.70" y2="505.50" stroke="#1c1c1c" stroke-width="1.25"/>
<circle cx="60.90" cy="500.90" r="1.2" fill="#151515"/>
<line x1="50.20" y1="516.50" x2="61.10" y2="516.50" stroke="#1c1c1c" stroke-width="1.25"/>
<circle cx="55.40" cy="512.40" r="1.2" fill="#151515"/>
<line x1="88.00" y1="550.50" x2="111.40" y2="550.50" stroke="#1c1c1c" stroke-width="1.25"/>
<circle cx="97.80" cy="546.10" r="1.2" fill="#151515"/>
<circle cx="101.20" cy="546.10" r="1.2" fill="#151515"/>
<line x1="88.00" y1="561.50" x2="99.50" y2="561.50" stroke="#1c1c1c" stroke-width="1.25"/>
<circle cx="92.00" cy="557.30" r="1.2" fill="#151515"/>
<circle cx="95.40" cy="557.30" r="1.2" fill="#151515"/>
<line x1="126.20" y1="577.50" x2="149.20" y2="577.50" stroke="#1c1c1c" stroke-width="1.25"/>
<circle cx="137.70" cy="573.60" r="1.2" fill="#151515"/>
<line x1="126.20" y1="590.50" x2="137.70" y2="590.50" stroke="#1c1c1c" stroke-width="1.25"/>
<circle cx="130.20" cy="585.90" r="1.2" fill="#151515"/>
<circle cx="133.60" cy="585.90" r="1.2" fill="#151515"/>
<line x1="163.80" y1="607.50" x2="187.80" y2="607.50" stroke="#1c1c1c" stroke-width="1.25"/>
<circle cx="175.80" cy="603.30" r="1.2" fill="#151515"/>
<line x1="163.80" y1="619.50" x2="175.80" y2="619.50" stroke="#1c1c1c" stroke-width="1.25"/>
<circle cx="170.00" cy="615.50" r="1.2" fill="#151515"/>
<text x="61.40" y="667.50" font-size="7.8" text-anchor="middle" fill="#333333" font-weight="normal">6</text>
<text x="100.10" y="667.50" font-size="7.8" text-anchor="middle" fill="#333333" font-weight="normal">24</text>
<text x="139.50" y="667.50" font-size="7.8" text-anchor="middle" fill="#333333" font-weight="normal">48</text>
<text x="175.80" y="667.50" font-size="7.8" text-anchor="middle" fill="#333333" font-weight="normal">72</text>
<text x="119.70" y="681.30" font-size="9.6" text-anchor="middle" fill="#333333" font-weight="normal" textLength="50.60" lengthAdjust="spacingAndGlyphs">Post-FPI (hour)</text>
<text transform="translate(214.20,505.30) scale(1.000,1)" x="0" y="0" font-size="11.5" font-weight="bold" fill="#111">H</text>
<line x1="248.50" y1="511.00" x2="248.50" y2="658.20" stroke="#080808" stroke-width="1.35"/>
<text x="243.00" y="660.49" font-size="8.2" text-anchor="end" fill="#333333" font-weight="normal">0.0</text>
<line x1="245.60" y1="629.80" x2="248.60" y2="629.80" stroke="#080808" stroke-width="1.0"/>
<text x="243.00" y="632.59" font-size="8.2" text-anchor="end" fill="#333333" font-weight="normal">0.2</text>
<line x1="245.60" y1="601.90" x2="248.60" y2="601.90" stroke="#080808" stroke-width="1.0"/>
<text x="243.00" y="604.69" font-size="8.2" text-anchor="end" fill="#333333" font-weight="normal">0.4</text>
<line x1="245.60" y1="574.00" x2="248.60" y2="574.00" stroke="#080808" stroke-width="1.0"/>
<text x="243.00" y="576.79" font-size="8.2" text-anchor="end" fill="#333333" font-weight="normal">0.6</text>
<line x1="245.60" y1="546.10" x2="248.60" y2="546.10" stroke="#080808" stroke-width="1.0"/>
<text x="243.00" y="548.89" font-size="8.2" text-anchor="end" fill="#333333" font-weight="normal">0.8</text>
<line x1="245.60" y1="518.20" x2="248.60" y2="518.20" stroke="#080808" stroke-width="1.0"/>
<text x="243.00" y="520.99" font-size="8.2" text-anchor="end" fill="#333333" font-weight="normal">1.0</text>
<text transform="translate(222.40,593.20) rotate(-90)" x="0" y="0" font-size="9.0" text-anchor="middle" fill="#333333" textLength="74.00" lengthAdjust="spacingAndGlyphs">Accumulative survival</text>
<line x1="245.30" y1="657.90" x2="420.80" y2="657.90" stroke="#080808" stroke-width="1.4"/>
<line x1="257.20" y1="657.70" x2="257.20" y2="661.00" stroke="#080808" stroke-width="1.0"/>
<text x="257.20" y="671.00" font-size="7.8" text-anchor="middle" fill="#333333" font-weight="normal">0</text>
<line x1="294.30" y1="657.70" x2="294.30" y2="661.00" stroke="#080808" stroke-width="1.0"/>
<text x="294.30" y="671.00" font-size="7.8" text-anchor="middle" fill="#333333" font-weight="normal">12</text>
<line x1="330.70" y1="657.70" x2="330.70" y2="661.00" stroke="#080808" stroke-width="1.0"/>
<text x="330.70" y="671.00" font-size="7.8" text-anchor="middle" fill="#333333" font-weight="normal">24</text>
<line x1="367.60" y1="657.70" x2="367.60" y2="661.00" stroke="#080808" stroke-width="1.0"/>
<text x="367.60" y="671.00" font-size="7.8" text-anchor="middle" fill="#333333" font-weight="normal">36</text>
<line x1="404.60" y1="657.70" x2="404.60" y2="661.00" stroke="#080808" stroke-width="1.0"/>
<text x="404.60" y="671.00" font-size="7.8" text-anchor="middle" fill="#333333" font-weight="normal">72</text>
<text x="334.80" y="684.30" font-size="9.6" text-anchor="middle" fill="#333333" font-weight="normal" textLength="51.30" lengthAdjust="spacingAndGlyphs">Post-FPI (hour)</text>
<polyline points="257.6,518 409.2,518" fill="none" stroke="#243d70" stroke-width="1.3"/>
<polyline points="257.6,518 257.6,543 406,542.2" fill="none" stroke="#5c9e36" stroke-width="1.3"/>
<polyline points="257.6,543 257.6,568 267.5,568 267.5,573.4 304.8,573.4 304.8,593 409.2,593" fill="none" stroke="#9c0630" stroke-width="1.3"/>
<text x="403.30" y="529.00" font-size="7.8" text-anchor="end" fill="#333333" font-weight="normal" textLength="18.80" lengthAdjust="spacingAndGlyphs">Sham</text>
<text x="403.90" y="553.30" font-size="7.8" text-anchor="end" fill="#333333" font-weight="normal" textLength="65.20" lengthAdjust="spacingAndGlyphs">FPI+rADAMTS-13*</text>
<text x="403.30" y="603.10" font-size="7.8" text-anchor="end" fill="#333333" font-weight="normal" textLength="29.10" lengthAdjust="spacingAndGlyphs">FPI+PBS</text>
<text x="253.80" y="652.90" font-size="7.5" text-anchor="start" fill="#333333" font-weight="normal" textLength="113.60" lengthAdjust="spacingAndGlyphs">* P &lt; 0.05 (PBS vs. rADAMTS-13)</text>
</g>
<rect x="0.65" y="0.6" width="518.65" height="692.75" fill="none" stroke="#000" stroke-width="1.3"/>
</svg>
</body></html>
